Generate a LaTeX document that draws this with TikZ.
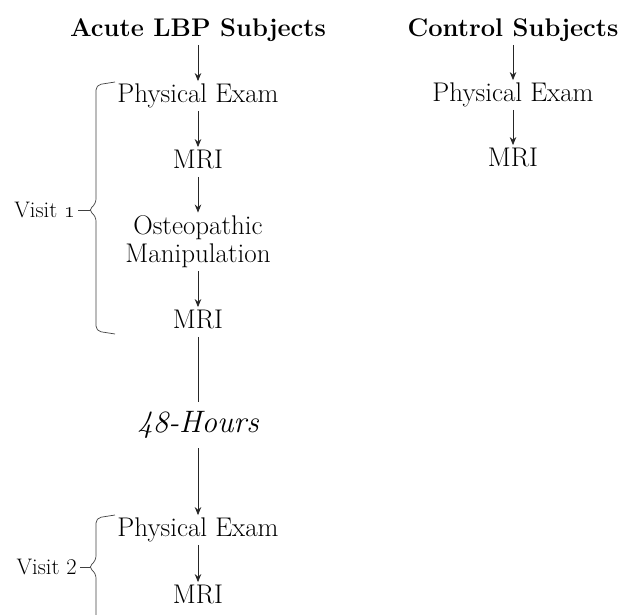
\RequirePackage{fix-cm}
\documentclass[tikz,border=0pt]{standalone}
\usetikzlibrary{positioning}
\usetikzlibrary{arrows.meta}

\begin{document}
\begin{tikzpicture}[
            x = 1pt, y = -1pt, % pixel-like units, y going down
            > = {Stealth[length=8pt, width=6.5pt]}, % arrow head style
            node distance = 66pt, % centre to centre, see on grid
            on grid,
            line width = 0.8pt,
            draw = black!85
            ]

        \tikzstyle{stepbox}=[
            inner sep = 3pt,
            text height = 18pt,
            text depth = 5pt,
            font = \fontsize{27}{30}\selectfont
        ]
        \tikzstyle{headbox}=[stepbox, font = \fontsize{25.5}{30}\selectfont\bfseries]
        \tikzstyle{twobox}=[inner sep = 3pt, align = center, font = \fontsize{27}{28}\selectfont]
        \tikzstyle{waitbox}=[inner sep = 9pt, font = \fontsize{31}{34}\selectfont\itshape]
        \tikzstyle{visitbox}=[anchor = east, inner sep = 3pt, font = \fontsize{22.5}{26}\selectfont]
        \tikzstyle{bracket}=[line width = 0.7pt, black!75, rounded corners = 5pt]

        \useasboundingbox (0,0) rectangle (626,614);

        % acute LBP column
        \node[headbox] (ACU) at (198,30) {Acute LBP Subjects};
        \node[stepbox] (PE1) [below = of ACU] {Physical Exam};
        \node[stepbox] (MRI1) [below = of PE1] {MRI};
        \node[twobox] (OM) [below = 80pt of MRI1] {Osteopathic\\Manipulation};
        \node[stepbox] (MRI2) [below = 80pt of OM] {MRI};
        \node[waitbox] (HRS) [below = 103pt of MRI2] {48-Hours};
        \node[stepbox] (PE2) [below = 105pt of HRS] {Physical Exam};
        \node[stepbox] (MRI3) [below = 67pt of PE2] {MRI};

        \path[->] (ACU) edge node {} (PE1);
        \path[->] (PE1) edge node {} (MRI1);
        \path[->] (MRI1) edge node {} (OM);
        \path[->] (OM) edge node {} (MRI2);
        \path[-] (MRI2) edge node {} (HRS);
        \path[->] (HRS) edge node {} (PE2);
        \path[->] (PE2) edge node {} (MRI3);

        % control column
        \node[headbox] (CON) at (513,30) {Control Subjects};
        \node[stepbox] (CPE) [below = 65pt of CON] {Physical Exam};
        \node[stepbox] (CMRI) [below = 65pt of CPE] {MRI};

        \path[->] (CON) edge node {} (CPE);
        \path[->] (CPE) edge node {} (CMRI);

        % visit brackets
        \coordinate (V1top) at (115,82);
        \coordinate (V1tip) at (78,210);
        \coordinate (V1bot) at (115,334);
        \draw[bracket] (V1top) -- (96,85) -- (96,204) -- (88,210) -- (96,216) -- (96,331) -- (V1bot);
        \draw[bracket] (V1tip) -- (90,210);
        \node[visitbox] (V1) at (V1tip) {Visit \oldstylenums{1}};

        \coordinate (V2top) at (115,515);
        \coordinate (V2tip) at (80,567);
        \coordinate (V2bot) at (96,630);
        \draw[bracket] (V2top) -- (96,518) -- (96,561) -- (88,567) -- (96,573) -- (V2bot);
        \draw[bracket] (V2tip) -- (90,567);
        \node[visitbox] (V2) at (V2tip) {Visit 2};

\end{tikzpicture}
\end{document}
